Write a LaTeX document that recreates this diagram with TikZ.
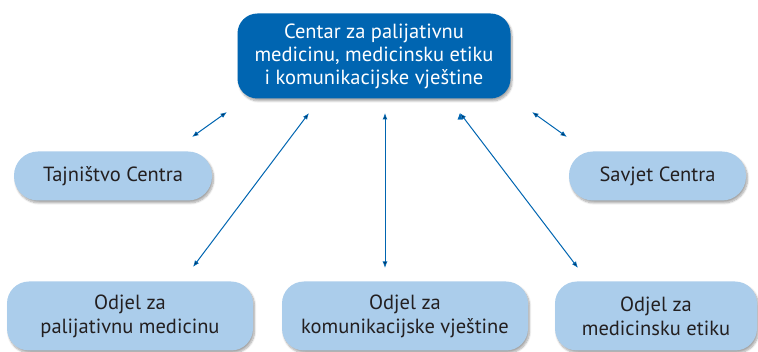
\documentclass[tikz,border=0pt]{standalone}
\usepackage{fontspec}
\setmainfont{PT Sans}
\usetikzlibrary{positioning, arrows.meta, shadows.blur}

\definecolor{centreblue}{HTML}{0065B1}
\definecolor{unitblue}{HTML}{ABCDEB}
\definecolor{textgray}{HTML}{231F20}

\begin{document}
\begin{tikzpicture}[x=1pt, y=-1pt, >={Latex[length=6.5pt, width=5pt]},
    box/.style={rounded corners=22pt, align=center, text=textgray, fill=unitblue,
        font=\fontsize{20.5}{24}\selectfont, inner sep=0pt,
        blur shadow={shadow xshift=1.5pt, shadow yshift=-2.5pt, shadow blur steps=8, shadow opacity=35}},
    centre/.style={box, fill=centreblue, text=white, rounded corners=20pt,
        font=\fontsize{20.5}{23}\selectfont},
    link/.style={<->, draw=centreblue, line width=1pt}]
    \useasboundingbox (0,0) rectangle (758,352);

    % Nodes
    \node[centre, minimum width=273pt, minimum height=85pt] (cpm) at (374,56)
        {Centar za palijativnu\\medicinu, medicinsku etiku\\i komunikacijske vještine};
    \node[box, minimum width=198pt, minimum height=49pt, rounded corners=24pt] (tajn) at (113,176) {Tajništvo Centra};
    \node[box, minimum width=177pt, minimum height=49pt, rounded corners=24pt] (savjet) at (657.5,176) {Savjet Centra};
    \node[box, minimum width=246pt, minimum height=69pt] (odpal) at (130,316) {Odjel za\\palijativnu medicinu};
    \node[box, minimum width=246pt, minimum height=69pt] (odkom) at (405,316) {Odjel za\\komunikacijske vještine};
    \node[box, minimum width=202pt, minimum height=69pt] (odet) at (656,316) {Odjel za\\medicinsku etiku};

    % Arrow ends (the arrows do not touch the boxes)
    \coordinate (tajnA) at (192,137);   \coordinate (tajnB) at (227,112);
    \coordinate (savA) at (532,112);    \coordinate (savB) at (567,137);
    \coordinate (palA) at (309,113);    \coordinate (palB) at (193,267);
    \coordinate (komA) at (385,113);    \coordinate (komB) at (385,268);
    \coordinate (etA) at (460,113);     \coordinate (etB) at (578,268);

    % Links
    \path[link]
        (tajnA) edge (tajnB)
        (savA) edge (savB)
        (palA) edge (palB)
        (komA) edge (komB)
        (etA) edge (etB);
\end{tikzpicture}
\end{document}
